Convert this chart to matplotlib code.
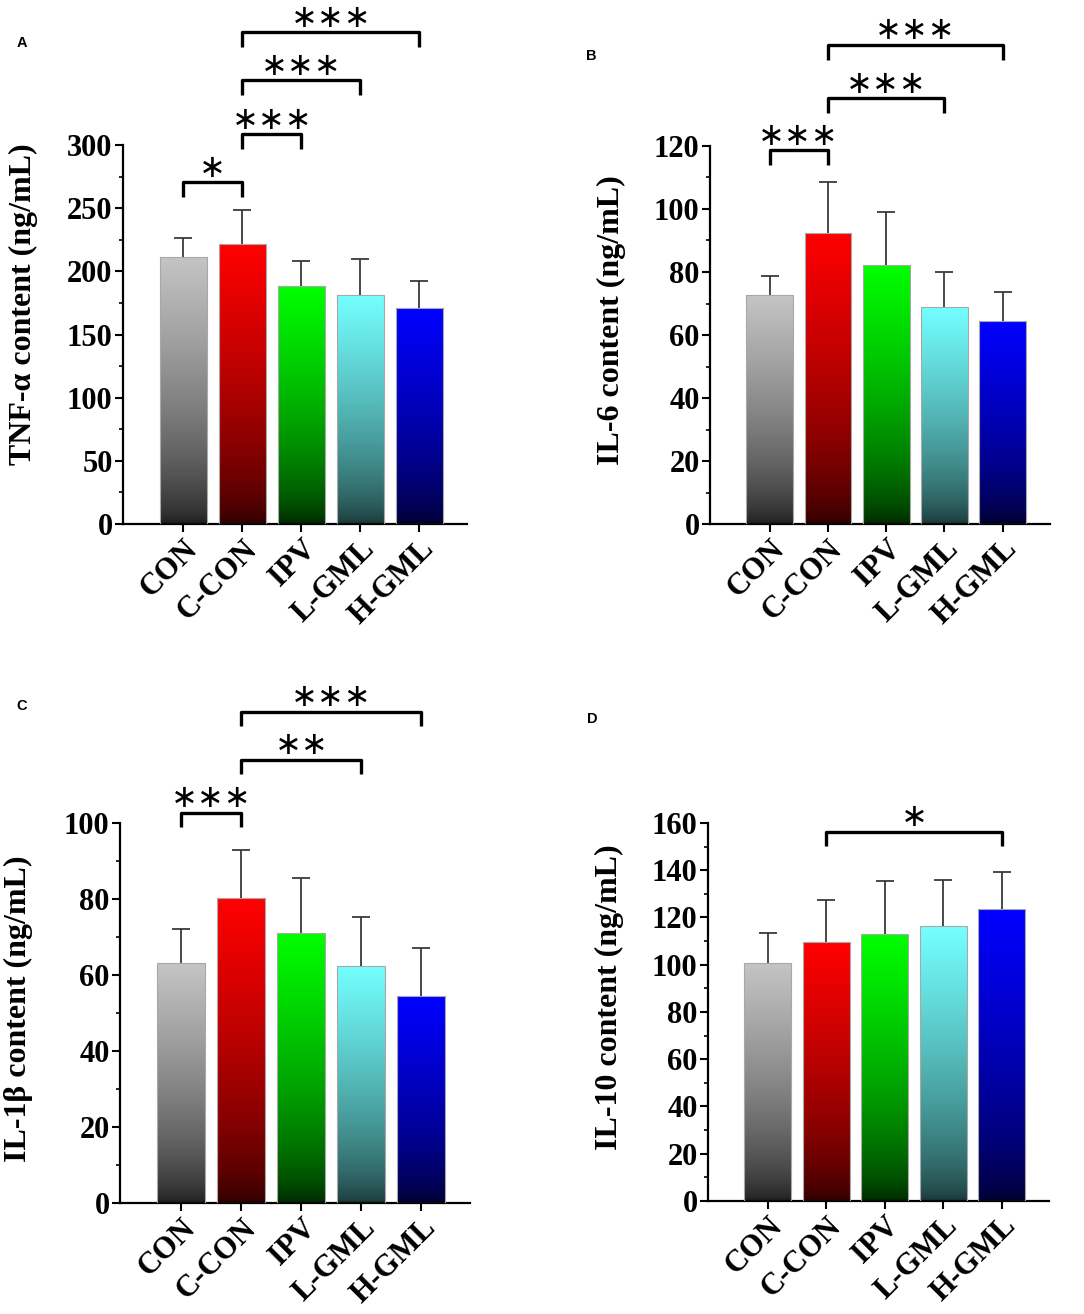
import numpy as np
import matplotlib
matplotlib.use("Agg")
import matplotlib.pyplot as plt
from matplotlib.colors import LinearSegmentedColormap

# groups and bar colours (top / bottom of the gradient)
groups = ["CON", "C-CON", "IPV", "L-GML", "H-GML"]
top_colors = ["#c4c4c4", "#ff0000", "#00ff00", "#74ffff", "#0000ff"]
bottom_colors = ["#1c1c1c", "#2c0000", "#002400", "#1a3434", "#00002c"]

# panel A: TNF-alpha
tnf_mean = [211.3, 221.6, 188.4, 181.3, 171.0]
tnf_err = [15.1, 26.9, 20.0, 28.2, 21.0]
# panel B: IL-6
il6_mean = [72.6, 92.5, 82.2, 68.9, 64.5]
il6_err = [6.1, 16.2, 16.9, 11.2, 9.2]
# panel C: IL-1beta
il1b_mean = [63.1, 80.2, 71.1, 62.4, 54.5]
il1b_err = [8.9, 12.7, 14.5, 12.9, 12.5]
# panel D: IL-10
il10_mean = [100.9, 109.6, 112.8, 116.3, 123.4]
il10_err = [12.7, 18.0, 22.5, 19.7, 15.7]

# significance brackets: (group i, group j, bracket height, stars)
tnf_sig = [(0, 1, 270.7, "∗"), (1, 2, 308.7, "∗∗∗"), (1, 3, 351.5, "∗∗∗"), (1, 4, 389.4, "∗∗∗")]
il6_sig = [(0, 1, 118.7, "∗∗∗"), (1, 3, 135.1, "∗∗∗"), (1, 4, 152.1, "∗∗∗")]
il1b_sig = [(0, 1, 102.7, "∗∗∗"), (1, 3, 116.6, "∗∗"), (1, 4, 129.3, "∗∗∗")]
il10_sig = [(1, 4, 156.3, "∗")]

serif = "Liberation Serif"


def gradient_bars(ax, means, errs):
    x = np.arange(len(means))
    means = np.asarray(means)
    tops = means + np.asarray(errs)
    bars = ax.bar(x, means, width=0.8, color="none", edgecolor="#a8a8a8",
                  linewidth=0.8, zorder=3)
    ramp = np.linspace(0, 1, 256) ** 0.65
    ramp = ramp[::-1].reshape(-1, 1)
    for b, c0, c1 in zip(bars, bottom_colors, top_colors):
        cmap = LinearSegmentedColormap.from_list("g", [c0, c1])
        x0 = b.get_x()
        im = ax.imshow(ramp, cmap=cmap, vmin=0, vmax=1, aspect="auto",
                       extent=(x0, x0 + b.get_width(), 0, b.get_height()),
                       zorder=2, interpolation="bicubic")
        im.set_clip_path(b)
    # upper error bars only
    ax.vlines(x, means, tops, color="#3a3a3a", lw=1.3, zorder=4)
    ax.plot(x, tops, ls="none", marker="_", ms=13, mew=1.3,
            color="#3a3a3a", zorder=4)


def brackets(ax, sig, leg):
    for i, j, h, stars in sig:
        ax.plot([i, i, j, j], [h - leg, h, h, h - leg], color="black", lw=2.4,
                solid_joinstyle="round", solid_capstyle="butt", clip_on=False,
                zorder=5)
        ax.annotate(stars, xy=((i + j) / 2, h), xytext=(0, 10),
                    textcoords="offset points", ha="center", va="center",
                    fontsize=23, family="DejaVu Sans", annotation_clip=False)


def style_axis(ax, ymax, step, ylabel, label_y, sig, leg):
    ax.set_xlim(-1.02, 4.81)
    ax.set_ylim(0, ymax)
    ax.set_yticks(np.arange(0, ymax + 1, step))
    ax.set_yticks(np.arange(step / 2, ymax, step), minor=True)
    ax.set_xticks(np.arange(len(groups)))
    ax.set_xticklabels(groups, rotation=45, ha="right", va="top",
                       rotation_mode="anchor", fontsize=22,
                       family=serif, weight="bold")
    for lab in ax.get_yticklabels():
        lab.set_fontsize(22)
        lab.set_family(serif)
        lab.set_weight("bold")
    for s in ["top", "right"]:
        ax.spines[s].set_visible(False)
    for s in ["left", "bottom"]:
        ax.spines[s].set_linewidth(1.6)
    ax.tick_params(which="major", length=5.5, width=1.5, pad=2)
    ax.tick_params(which="minor", length=3, width=1.2)
    ax.tick_params(axis="x", which="minor", bottom=False)
    ax.set_ylabel(ylabel, fontsize=23, family=serif, weight="bold", va="center")
    ax.yaxis.set_label_coords(-0.29, label_y)
    brackets(ax, sig, leg)


fig = plt.figure(figsize=(10.84, 13.14), dpi=100)

axA = fig.add_axes([0.1135, 0.6012, 0.3173, 0.2884])
gradient_bars(axA, tnf_mean, tnf_err)
style_axis(axA, 300, 50, "TNF-α content (ng/mL)", 0.58, tnf_sig, 11.5)

axB = fig.add_axes([0.655, 0.6012, 0.3137, 0.2877])
gradient_bars(axB, il6_mean, il6_err)
style_axis(axB, 120, 20, "IL-6 content (ng/mL)", 0.54, il6_sig, 4.7)

axC = fig.add_axes([0.1107, 0.0845, 0.3229, 0.2892])
gradient_bars(axC, il1b_mean, il1b_err)
style_axis(axC, 100, 20, "IL-1β content (ng/mL)", 0.51, il1b_sig, 3.7)

axD = fig.add_axes([0.6531, 0.086, 0.3146, 0.2877])
gradient_bars(axD, il10_mean, il10_err)
style_axis(axD, 160, 20, "IL-10 content (ng/mL)", 0.54, il10_sig, 6.0)

for letter, px, py in [("A", 22, 43), ("B", 591, 56), ("C", 22, 706), ("D", 592, 719)]:
    fig.text(px / 1084, 1 - py / 1314, letter, ha="center", va="center",
             fontsize=10.5, family="Liberation Sans", weight="bold")

fig.savefig("out.png", dpi=100)
